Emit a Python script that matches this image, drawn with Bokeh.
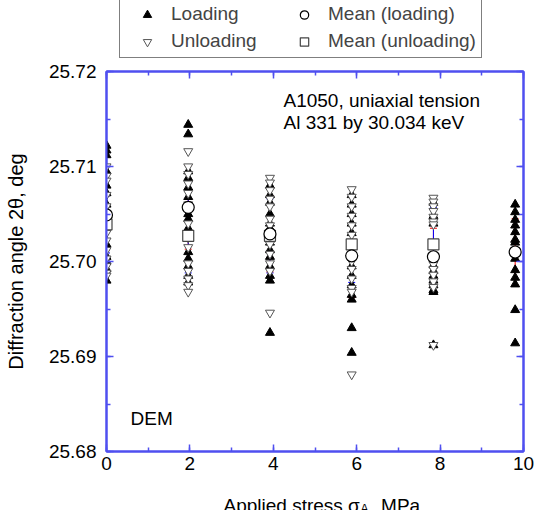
from bokeh.plotting import figure
from bokeh.layouts import column
from bokeh.models import (ColumnDataSource, Legend, LegendItem, Label, Whisker, TeeHead,
                          LinearAxis, SingleIntervalTicker, Range1d, PrintfTickFormatter,
                          CustomJSTickFormatter)
from bokeh.embed import file_html
from bokeh.resources import INLINE

# ---------------- data ----------------
stress = [0.0, 1.96, 3.92, 5.88, 7.84, 9.80]

loading_0 = [25.7122, 25.7117, 25.7112, 25.7095, 25.7080, 25.7072, 25.7060, 25.7052,
             25.7040, 25.7018, 25.7005, 25.7000, 25.6992, 25.6980]
loading_2 = [25.7144, 25.7134, 25.7095, 25.7088, 25.7078, 25.7068, 25.7050, 25.7045,
             25.7035, 25.7010, 25.7003, 25.6995, 25.6985, 25.6978]
loading_4 = [25.7080, 25.7070, 25.7062, 25.7050, 25.7040, 25.7035, 25.7020, 25.7012,
             25.7005, 25.6995, 25.6985, 25.6980, 25.6925]
loading_6 = [25.7070, 25.7060, 25.7050, 25.7040, 25.7030, 25.7005, 25.6995, 25.6985,
             25.6975, 25.6965, 25.6960, 25.6930, 25.6904]
loading_8 = [25.7062, 25.7048, 25.7040, 25.6996, 25.6990, 25.6985, 25.6980, 25.6975,
             25.6970, 25.6968, 25.6912]
loading_10 = [25.7060, 25.7052, 25.7044, 25.7038, 25.7031, 25.7023, 25.7020, 25.7003,
              25.6991, 25.6983, 25.6976, 25.6949, 25.6914]

unloading_0 = [25.7100, 25.7090, 25.7085, 25.7070, 25.7058, 25.7048, 25.7030, 25.7022,
               25.7012, 25.7003, 25.6995, 25.6988, 25.6985]
unloading_2 = [25.7116, 25.7100, 25.7092, 25.7082, 25.7072, 25.7060, 25.7040, 25.7025,
               25.7015, 25.6998, 25.6990, 25.6982, 25.6975, 25.6968]
unloading_4 = [25.7088, 25.7083, 25.7075, 25.7066, 25.7058, 25.7045, 25.7038, 25.7030,
               25.7018, 25.7008, 25.6998, 25.6990, 25.6946]
unloading_6 = [25.7076, 25.7068, 25.7058, 25.7048, 25.7038, 25.7028, 25.7000, 25.6992,
               25.6982, 25.6972, 25.6968, 25.6881]
unloading_8 = [25.7067, 25.7063, 25.7058, 25.7053, 25.7047, 25.7042, 25.7039, 25.6997,
               25.6992, 25.6986, 25.6979, 25.6973, 25.6912]

mean_loading = [25.7049, 25.7057, 25.7029, 25.7006, 25.7005, 25.7010]
std_loading = [0.0037, 0.0044, 0.0040, 0.0044, 0.0030, 0.0035]
mean_unloading = [25.7039, 25.7027, 25.7027, 25.7018, 25.7018]
std_unloading = [0.0030, 0.0039, 0.0039, 0.0040, 0.0039]

legend_labels = ["Loading", "Unloading", "Mean (loading)", "Mean (unloading)"]
x_label_main = "Applied stress σ"
x_label_sub = "A"
x_label_tail = ", MPa"
y_label = "Diffraction angle 2θ, deg"

# ---------------- build sources ----------------
loading_cols = [loading_0, loading_2, loading_4, loading_6, loading_8, loading_10]
unloading_cols = [unloading_0, unloading_2, unloading_4, unloading_6, unloading_8]

lx, ly = [], []
for s, col in zip(stress, loading_cols):
    lx += [s] * len(col)
    ly += col
ux, uy = [], []
for s, col in zip(stress, unloading_cols):
    ux += [s] * len(col)
    uy += col

src_l = ColumnDataSource(dict(x=lx, y=ly))
src_u = ColumnDataSource(dict(x=ux, y=uy))
src_ml = ColumnDataSource(dict(x=stress, y=mean_loading,
                               lo=[m - s for m, s in zip(mean_loading, std_loading)],
                               hi=[m + s for m, s in zip(mean_loading, std_loading)]))
src_mu = ColumnDataSource(dict(x=stress[:len(mean_unloading)], y=mean_unloading,
                               lo=[m - s for m, s in zip(mean_unloading, std_unloading)],
                               hi=[m + s for m, s in zip(mean_unloading, std_unloading)]))

FONT = "Liberation Sans"
BLUE = "#4f4ff0"
W = 539

MARK_L = dict(marker="triangle", size=9, fill_color="black", line_color="black")
MARK_U = dict(marker="inverted_triangle", size=9, fill_color="white",
              line_color="#555555", line_width=1)
MARK_ML = dict(marker="circle", size=12, fill_color="white", line_color="black",
               line_width=1.2)
MARK_MU = dict(marker="square", size=11, fill_color="white", line_color="#444444",
               line_width=1.2)


def bare_figure(h):
    f = figure(width=W, height=h, x_range=Range1d(0, 1), y_range=Range1d(0, 1),
               x_axis_type=None, y_axis_type=None, min_border=0,
               output_backend="svg", toolbar_location=None)
    f.xgrid.visible = False
    f.ygrid.visible = False
    f.outline_line_color = None
    f.background_fill_color = "white"
    f.border_fill_color = "white"
    return f


# ---------------- legend strip (top) ----------------
# the legend's proxy renderers hold one real data point that lies outside this
# strip's ranges, so only the legend glyphs are visible
top = bare_figure(59)
g_l = top.scatter(x=stress[:1], y=loading_0[:1], **MARK_L)
g_u = top.scatter(x=stress[:1], y=unloading_0[:1], **MARK_U)
g_ml = top.scatter(x=stress[:1], y=mean_loading[:1], **MARK_ML)
g_mu = top.scatter(x=stress[:1], y=mean_unloading[:1], **MARK_MU)
legend = Legend(items=[LegendItem(label=legend_labels[0], renderers=[g_l]),
                       LegendItem(label=legend_labels[1], renderers=[g_u]),
                       LegendItem(label=legend_labels[2], renderers=[g_ml]),
                       LegendItem(label=legend_labels[3], renderers=[g_mu])],
                location=(13, 1), orientation="vertical", nrows=2,
                label_text_font=FONT, label_text_font_size="19px",
                border_line_color="black", border_line_width=1,
                background_fill_color="white", background_fill_alpha=1,
                padding=5, spacing=5, glyph_width=44, glyph_height=21,
                label_standoff=2, label_width=106, label_height=21, margin=0)
top.add_layout(legend, "center")

# ---------------- main plot ----------------
p = figure(frame_width=417, frame_height=380,
           min_border_left=106, min_border_right=16, min_border_top=12, min_border_bottom=36,
           x_range=Range1d(0, 10), y_range=Range1d(25.68, 25.72),
           output_backend="svg", toolbar_location=None)
p.xgrid.visible = False
p.ygrid.visible = False
p.outline_line_color = BLUE
p.outline_line_width = 2
p.background_fill_color = "white"
p.border_fill_color = "white"

xt = SingleIntervalTicker(interval=2, num_minor_ticks=2)
yt = SingleIntervalTicker(interval=0.01, num_minor_ticks=2)


def style(ax, labels=True):
    ax.axis_line_color = BLUE
    ax.axis_line_width = 2
    ax.major_tick_line_color = BLUE
    ax.minor_tick_line_color = BLUE
    ax.major_tick_in = 7
    ax.major_tick_out = 0
    ax.minor_tick_in = 4
    ax.minor_tick_out = 0
    ax.major_tick_line_width = 1.5
    ax.minor_tick_line_width = 1.5
    ax.major_label_text_font = FONT
    ax.major_label_text_font_size = "19px" if labels else "0px"
    ax.major_label_text_color = "black"
    ax.axis_label_text_font = FONT
    ax.axis_label_text_font_size = "20px"
    ax.axis_label_text_font_style = "normal"
    ax.axis_label_text_color = "black"


p.xaxis.ticker = xt
p.yaxis.ticker = yt
p.yaxis.formatter = PrintfTickFormatter(format="%.2f")
style(p.xaxis[0])
style(p.yaxis[0])
p.xaxis.major_label_standoff = 5
p.yaxis.major_label_standoff = 10
p.yaxis.axis_label = y_label
p.yaxis.axis_label_standoff = 19

blank = CustomJSTickFormatter(code="return ''")
ax_r = LinearAxis(ticker=yt, formatter=blank)
ax_t = LinearAxis(ticker=xt, formatter=blank)
style(ax_r, labels=False)
style(ax_t, labels=False)
ax_r.major_label_standoff = 0
ax_t.major_label_standoff = 0
p.add_layout(ax_r, "right")
p.add_layout(ax_t, "above")

# error bars of the means
for src, col in [(src_ml, "red"), (src_mu, "blue")]:
    p.add_layout(Whisker(source=src, base="x", lower="lo", upper="hi", line_color=col,
                         line_width=1,
                         lower_head=TeeHead(size=7, line_color=col, line_width=1),
                         upper_head=TeeHead(size=7, line_color=col, line_width=1)))

p.scatter("x", "y", source=src_l, **MARK_L)
p.scatter("x", "y", source=src_u, **MARK_U)
p.scatter("x", "y", source=src_mu, **MARK_MU)
p.scatter("x", "y", source=src_ml, **MARK_ML)

for txt, x, y in [("A1050, uniaxial tension", 177, 351),
                  ("Al 331 by 30.034 keV", 177, 329),
                  ("DEM", 24, 33)]:
    p.add_layout(Label(x=x, y=y, x_units="screen", y_units="screen", text=txt,
                       text_font=FONT, text_font_size="19px", text_color="black",
                       text_baseline="alphabetic"))

# ---------------- x-axis title strip (bottom) ----------------
bot = bare_figure(23)
for txt, x, y, fs in [(x_label_main, 117, 5, "19px"),
                      (x_label_sub, 254, 2, "12px"),
                      (x_label_tail, 264, 5, "19px")]:
    bot.add_layout(Label(x=x, y=y, x_units="screen", y_units="screen", text=txt,
                         text_font=FONT, text_font_size=fs, text_color="black",
                         text_baseline="alphabetic"))

layout = column(top, p, bot, spacing=0)
open("out.html", "w").write(file_html(layout, INLINE))
